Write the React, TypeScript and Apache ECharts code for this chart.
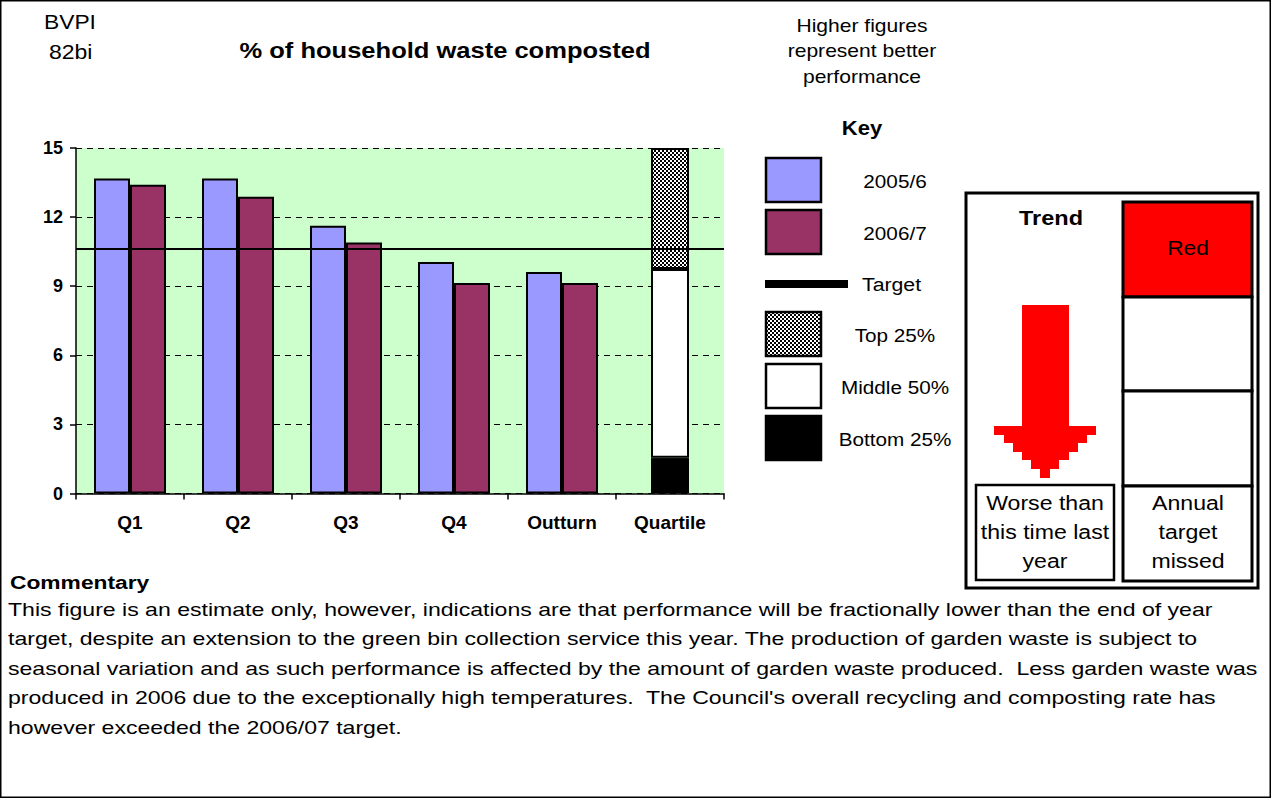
import React, { useEffect, useRef } from "react";
import * as echarts from "echarts";

const categories = ["Q1", "Q2", "Q3", "Q4", "Outturn", "Quartile"];
const series2005 = [13.68, 13.68, 11.62, 10.05, 9.62];
const series2006 = [13.4, 12.88, 10.9, 9.14, 9.14];
const targetValue = 10.63;
const quartileBottomEdge = 1.55;
const quartileTopEdge = 9.75;
const axisMax = 15;
const yTicks = [0, 3, 6, 9, 12, 15];

const commentaryLines = [
  "This figure is an estimate only, however, indications are that performance will be fractionally lower than the end of year",
  "target, despite an extension to the green bin collection service this year. The production of garden waste is subject to",
  "seasonal variation and as such performance is affected by the amount of garden waste produced.  Less garden waste was",
  "produced in 2006 due to the exceptionally high temperatures.  The Council's overall recycling and composting rate has",
  "however exceeded the 2006/07 target.",
];

const FONT = "Arial, 'Liberation Sans', sans-serif";
const C2005 = "#9999FF";
const C2006 = "#993366";

function makeChecker() {
  const c = document.createElement("canvas");
  c.width = 4;
  c.height = 4;
  const ctx = c.getContext("2d")!;
  ctx.fillStyle = "#ffffff";
  ctx.fillRect(0, 0, 4, 4);
  ctx.fillStyle = "#000000";
  ctx.fillRect(0, 0, 2, 2);
  ctx.fillRect(2, 2, 2, 2);
  return c;
}

export default function App() {
  const ref = useRef<HTMLDivElement>(null);
  useEffect(() => {
    document.body.style.margin = "0";
    if (!ref.current) return;
    const chart = echarts.init(ref.current, null, { renderer: "svg" });
    const checker = { image: makeChecker(), repeat: "repeat" } as any;
    const last = categories.length - 1;
    const pad = (v: number) => categories.map((_, i) => (i === last ? v : "-"));
    const pad5 = (arr: number[]) => categories.map((_, i) => (i < arr.length ? arr[i] : "-"));

    const txt = (
      x: number,
      y: number,
      text: string,
      font: string,
      align = "center",
      sx = 1,
      lh?: number
    ) => ({
      type: "text",
      x,
      y,
      scaleX: sx,
      style: { text, font, fill: "#000", textAlign: align, textVerticalAlign: "middle", lineHeight: lh },
    });

    const legendItems = [
      { kind: "box", name: "2005/6", fill: C2005, y: 158 },
      { kind: "box", name: "2006/7", fill: C2006, y: 210 },
      { kind: "line", name: "Target", y: 284 },
      { kind: "box", name: "Top 25%", fill: checker, y: 312 },
      { kind: "box", name: "Middle 50%", fill: "#ffffff", y: 364 },
      { kind: "box", name: "Bottom 25%", fill: "#000000", y: 416 },
    ];
    const legendEls: any[] = [];
    legendItems.forEach((it) => {
      if (it.kind === "box") {
        legendEls.push({
          type: "rect",
          shape: { x: 766, y: it.y, width: 55, height: 44 },
          style: { fill: it.fill, stroke: "#000", lineWidth: 2.5 },
        });
        legendEls.push(txt(895, it.y + 23, it.name, `19px ${FONT}`, "center", 1.09));
      } else {
        legendEls.push({
          type: "rect",
          shape: { x: 765, y: it.y - 4, width: 83, height: 8 },
          style: { fill: "#000" },
        });
        legendEls.push(txt(862, it.y, it.name, `19px ${FONT}`, "left", 1.12));
      }
    });

    const arrowPts = [
      [1022, 305], [1069, 305], [1069, 426], [1096, 426], [1096, 435], [1087, 435], [1087, 443],
      [1078, 443], [1078, 452], [1069, 452], [1069, 460], [1059, 460], [1059, 469], [1050, 469],
      [1050, 478], [1040, 478], [1040, 469], [1031, 469], [1031, 460], [1022, 460], [1022, 452],
      [1013, 452], [1013, 443], [1004, 443], [1004, 435], [994, 435], [994, 426], [1022, 426],
    ];

    const graphics: any[] = [
      { type: "rect", shape: { x: 0.75, y: 0.75, width: 1269.5, height: 796.5 }, style: { fill: "none", stroke: "#000", lineWidth: 1.5 } },
      txt(44, 22, "BVPI", `20px ${FONT}`, "left", 1.14),
      txt(49, 52, "82bi", `20px ${FONT}`, "left", 1.15),
      txt(445, 50, "% of household waste composted", `bold 22px ${FONT}`, "center", 1.16),
      txt(862, 51, "Higher figures\nrepresent better\nperformance", `18px ${FONT}`, "center", 1.17, 25.5),
      txt(862, 128, "Key", `bold 20px ${FONT}`, "center", 1.1),
      ...legendEls,
      // trend panel
      { type: "rect", shape: { x: 966, y: 193, width: 292, height: 395 }, style: { fill: "#fff", stroke: "#000", lineWidth: 3 } },
      txt(1051, 218, "Trend", `bold 21px ${FONT}`, "center", 1.12),
      { type: "rect", shape: { x: 1123, y: 202, width: 129, height: 95 }, style: { fill: "#FF0000", stroke: "#000", lineWidth: 3 } },
      { type: "rect", shape: { x: 1123, y: 297, width: 129, height: 94 }, style: { fill: "#fff", stroke: "#000", lineWidth: 3 } },
      { type: "rect", shape: { x: 1123, y: 391, width: 129, height: 95 }, style: { fill: "#fff", stroke: "#000", lineWidth: 3 } },
      { type: "rect", shape: { x: 1123, y: 486, width: 129, height: 95 }, style: { fill: "#fff", stroke: "#000", lineWidth: 3 } },
      txt(1188, 248, "Red", `21px ${FONT}`, "center", 1.08),
      { type: "rect", shape: { x: 976, y: 485, width: 138, height: 95 }, style: { fill: "#fff", stroke: "#000", lineWidth: 2.5 } },
      { type: "polygon", shape: { points: arrowPts }, style: { fill: "#FF0000" } },
      txt(1045, 532, "Worse than\nthis time last\nyear", `21px ${FONT}`, "center", 1.1, 29),
      txt(1188, 532, "Annual\ntarget\nmissed", `21px ${FONT}`, "center", 1.1, 29),
      txt(10, 582, "Commentary", `bold 19px ${FONT}`, "left", 1.2),
      ...commentaryLines.map((l, i) => txt(8, 609 + i * 29.5, l, `19px ${FONT}`, "left", 1.214)),
    ];

    chart.setOption({
      animation: false,
      backgroundColor: "#ffffff",
      grid: {
        left: 76,
        top: 148,
        width: 648,
        height: 345.5,
        show: true,
        backgroundColor: "#CCFFCC",
        borderWidth: 0,
      },
      xAxis: [
        {
          type: "category",
          data: categories,
          axisLine: { show: true, lineStyle: { color: "#000", width: 1.5 } },
          axisTick: { show: true, length: 6, lineStyle: { color: "#000", width: 1.5 } },
          axisLabel: { color: "#000", fontFamily: FONT, fontWeight: "bold", fontSize: 19, margin: 19 },
          splitLine: { show: false },
        },
        {
          type: "category",
          data: categories,
          show: false,
          position: "bottom",
        },
      ],
      yAxis: {
        type: "value",
        min: 0,
        max: axisMax,
        interval: 3,
        axisLine: { show: true, lineStyle: { color: "#000", width: 1.5 } },
        axisTick: { show: true, length: 6, lineStyle: { color: "#000", width: 1.5 } },
        axisLabel: {
          color: "#000",
          fontFamily: FONT,
          fontWeight: "bold",
          fontSize: 18,
          margin: 13,
          formatter: (v: number) => (yTicks.includes(v) ? String(v) : ""),
        },
        splitLine: { show: true, lineStyle: { color: "#000", type: [6, 5], width: 1 } },
      },
      series: [
        {
          name: "2005/6",
          type: "bar",
          xAxisIndex: 0,
          data: pad5(series2005),
          barWidth: 36,
          barGap: "0%",
          itemStyle: { color: C2005, borderColor: "#000", borderWidth: 2 },
          markLine: {
            silent: true,
            symbol: "none",
            label: { show: false },
            lineStyle: { color: "#000", type: "solid", width: 2 },
            data: [{ name: "Target", yAxis: targetValue }],
            z: 10,
          },
          z: 2,
        },
        {
          name: "2006/7",
          type: "bar",
          xAxisIndex: 0,
          data: pad5(series2006),
          barWidth: 36,
          barGap: "0%",
          itemStyle: { color: C2006, borderColor: "#000", borderWidth: 2 },
          z: 2,
        },
        {
          name: "Bottom 25%",
          type: "bar",
          xAxisIndex: 1,
          stack: "q",
          barWidth: 38,
          data: pad(quartileBottomEdge),
          itemStyle: { color: "#000", borderColor: "#000", borderWidth: 1 },
          z: 2,
        },
        {
          name: "Middle 50%",
          type: "bar",
          xAxisIndex: 1,
          stack: "q",
          barWidth: 38,
          data: pad(quartileTopEdge - quartileBottomEdge),
          itemStyle: { color: "#fff", borderColor: "#000", borderWidth: 2 },
          z: 2,
        },
        {
          name: "Top 25%",
          type: "bar",
          xAxisIndex: 1,
          stack: "q",
          barWidth: 38,
          data: pad(axisMax - quartileTopEdge),
          itemStyle: { color: checker, borderColor: "#000", borderWidth: 2 },
          z: 2,
        },
      ],
      graphic: { elements: graphics },
    });
    return () => chart.dispose();
  }, []);
  return <div ref={ref} style={{ width: 1271, height: 798 }} />;
}
